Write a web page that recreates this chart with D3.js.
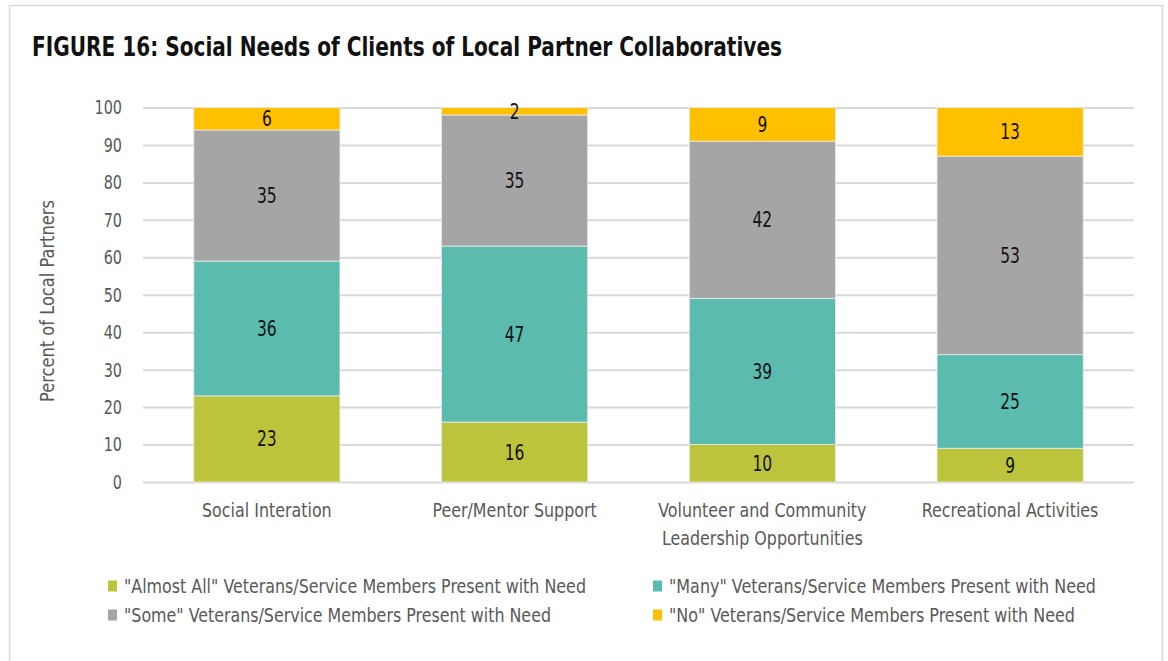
<!DOCTYPE html>
<html>
<head>
<meta charset="utf-8">
<script src="https://cdn.jsdelivr.net/npm/d3@7"></script>
<style>
  html, body { margin: 0; padding: 0; background: #fff; }
  svg { display: block; }
  text { font-family: "Liberation Sans Narrow", "DejaVu Sans Condensed", "Roboto Condensed", sans-serif; }
</style>
</head>
<body>
<svg id="chart" width="1168" height="661"></svg>
<script>
// Categories and stacked series (percent of local partners)
const categories = [
  ["Social Interation"],
  ["Peer/Mentor Support"],
  ["Volunteer and Community", "Leadership Opportunities"],
  ["Recreational Activities"]
];
const seriesNames = [
  "\"Almost All\" Veterans/Service Members Present with Need",
  "\"Many\" Veterans/Service Members Present with Need",
  "\"Some\" Veterans/Service Members Present with Need",
  "\"No\" Veterans/Service Members Present with Need"
];
const almostAll = [23, 16, 10, 9];
const many      = [36, 47, 39, 25];
const some      = [35, 35, 42, 53];
const none      = [6, 2, 9, 13];
const yTicks = [0, 10, 20, 30, 40, 50, 60, 70, 80, 90, 100];
const colors = ["#BBC43A", "#5BBBAF", "#A5A5A5", "#FFC000"];

const seriesValues = [almostAll, many, some, none];
const keys = ["almostAll", "many", "some", "none"];
const rows = categories.map((c, i) => {
  const r = { cat: c.join(" ") };
  keys.forEach((k, j) => r[k] = seriesValues[j][i]);
  return r;
});

// squeeze glyphs horizontally for a narrower, taller look
function condense(sel, factor) {
  sel.each(function () {
    const w = this.getComputedTextLength();
    d3.select(this).attr("textLength", w * factor).attr("lengthAdjust", "spacingAndGlyphs");
  });
}

const svg = d3.select("#chart");

// outer frame
svg.append("rect")
  .attr("x", 9.5).attr("y", 5.5)
  .attr("width", 1153).attr("height", 680)
  .attr("fill", "none").attr("stroke", "#d9d9d9").attr("stroke-width", 1.5);

// title
svg.append("text")
  .attr("x", 32).attr("y", 56)
  .attr("font-size", 27).attr("font-weight", "bold").attr("fill", "#111")
  .attr("textLength", 750).attr("lengthAdjust", "spacingAndGlyphs")
  .text("FIGURE 16: Social Needs of Clients of Local Partner Collaboratives");

const plot = { left: 143, right: 1134, top: 107.5, bottom: 482 };

const x = d3.scaleBand()
  .domain(rows.map(d => d.cat))
  .range([plot.left, plot.right])
  .paddingInner(0.41)
  .paddingOuter(0.205);

const y = d3.scaleLinear().domain([0, 100]).range([plot.bottom, plot.top]);

// gridlines + tick labels
const yAxis = svg.append("g")
  .attr("transform", `translate(${plot.left},0)`)
  .call(d3.axisLeft(y).tickValues(yTicks).tickSize(-(plot.right - plot.left)).tickPadding(21).tickFormat(d3.format("d")));
yAxis.select(".domain").remove();
yAxis.selectAll(".tick line").attr("stroke", "#d9d9d9").attr("stroke-width", 2);
yAxis.selectAll(".tick text")
  .attr("font-size", 20).attr("fill", "#595959")
  .attr("font-family", "\"Liberation Sans Narrow\", \"DejaVu Sans Condensed\", sans-serif")
  .call(condense, 0.8);

// y axis title
svg.append("text")
  .attr("transform", "translate(54,301) rotate(-90)")
  .attr("text-anchor", "middle")
  .attr("font-size", 19).attr("fill", "#595959")
  .attr("textLength", 202).attr("lengthAdjust", "spacingAndGlyphs")
  .text("Percent of Local Partners");

// stacked bars
const stack = d3.stack().keys(keys);
const stacked = stack(rows);

const layers = svg.append("g").selectAll("g")
  .data(stacked).join("g")
  .attr("fill", (d, i) => colors[i]);

layers.selectAll("rect")
  .data(d => d)
  .join("rect")
  .attr("x", d => x(d.data.cat))
  .attr("width", x.bandwidth())
  .attr("y", d => y(d[1]))
  .attr("height", d => y(d[0]) - y(d[1]))
  .attr("stroke", "#ececec").attr("stroke-width", 0.8);

// value labels
layers.selectAll("text")
  .data(d => d)
  .join("text")
  .attr("x", d => x(d.data.cat) + x.bandwidth() / 2)
  .attr("y", d => (y(d[0]) + y(d[1])) / 2)
  .attr("dy", "0.36em")
  .attr("text-anchor", "middle")
  .attr("font-size", 21).attr("fill", "#111")
  .text(d => d[1] - d[0])
  .call(condense, 0.82);

// category labels
const catG = svg.append("g");
categories.forEach((lines, i) => {
  const cx = x(rows[i].cat) + x.bandwidth() / 2;
  lines.forEach((ln, j) => {
    catG.append("text")
      .attr("x", cx).attr("y", 517 + j * 28)
      .attr("text-anchor", "middle")
      .attr("font-size", 19).attr("fill", "#595959")
      .text(ln)
      .call(condense, 0.93);
  });
});

// legend
const legendPos = [
  { x: 108, y: 586 }, { x: 653, y: 586 },
  { x: 108, y: 615 }, { x: 653, y: 615 }
];
const legendLen = [462, 427, 427, 406];
const legend = svg.append("g");
seriesNames.forEach((name, i) => {
  const p = legendPos[i];
  legend.append("rect")
    .attr("x", p.x).attr("y", p.y - 5.5)
    .attr("width", 9).attr("height", 11)
    .attr("fill", colors[i]);
  legend.append("text")
    .attr("x", p.x + 16).attr("y", p.y).attr("dy", "0.35em")
    .attr("font-size", 19).attr("fill", "#595959")
    .attr("textLength", legendLen[i]).attr("lengthAdjust", "spacingAndGlyphs")
    .text(name);
});
</script>
</body>
</html>
